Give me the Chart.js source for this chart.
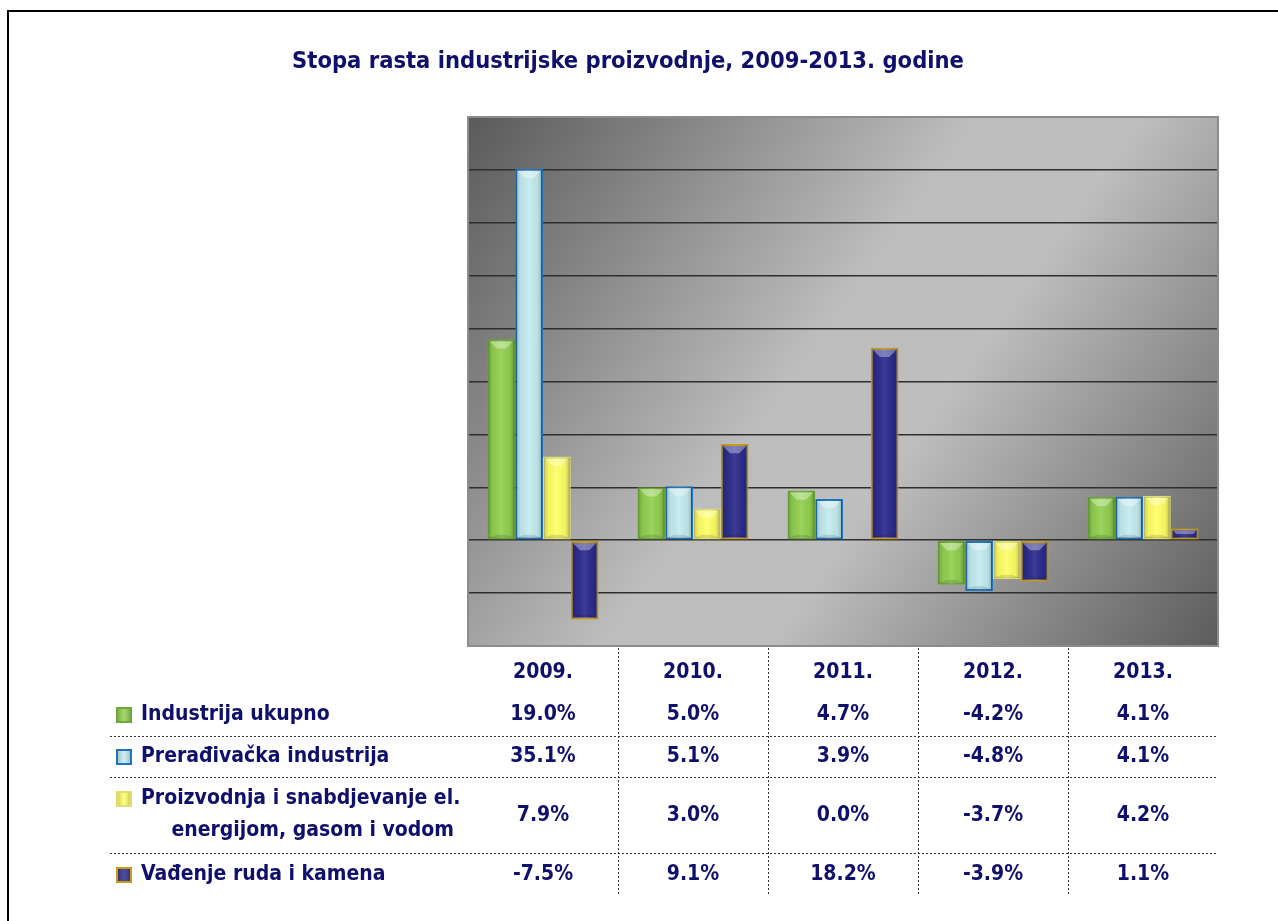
<!DOCTYPE html>
<html lang="sr">
<head>
  <meta charset="UTF-8">
  <title>Stopa rasta industrijske proizvodnje</title>
  <script src="https://cdn.jsdelivr.net/npm/chart.js"></script>
  <style>
    body {
      margin: 0;
      background: #fff;
    }
    #wrap {
      position: relative;
      width: 1278px;
      height: 921px;
    }
  </style>
</head>
<body>
  <div id="wrap">
    <canvas id="chart" width="1278" height="921"></canvas>
  </div>

  <script>
    // data
    const years = ['2009.', '2010.', '2011.', '2012.', '2013.'];
    const seriesNames = [
      'Industrija ukupno',
      'Prerađivačka industrija',
      'Proizvodnja i snabdjevanje el. energijom, gasom i vodom',
      'Vađenje ruda i kamena'
    ];
    const ukupno = [19.0, 5.0, 4.7, -4.2, 4.1];
    const preradjivacka = [35.1, 5.1, 3.9, -4.8, 4.1];
    const energija = [7.9, 3.0, 0.0, -3.7, 4.2];
    const vadjenje = [-7.5, 9.1, 18.2, -3.9, 1.1];

    const titleText = 'Stopa rasta industrijske proizvodnje, 2009-2013. godine';
    const navy = '#0f0f6c';
    const fontFam = "'DejaVu Sans Condensed', 'DejaVu Sans', sans-serif";

    const fills = ['#92d050', '#c4ecf0', '#ffff66', '#2c2c8e'];
    const borders = ['#6fa83a', '#1f74bb', '#e0e070', '#c99a16'];

    // plot background, frame and title
    const backdrop = {
      id: 'backdrop',
      beforeDraw(chart) {
        const ctx = chart.ctx;
        const a = chart.chartArea;
        ctx.save();
        ctx.fillStyle = '#fff';
        ctx.fillRect(0, 0, chart.width, chart.height);

        ctx.strokeStyle = '#000';
        ctx.lineWidth = 2;
        ctx.strokeRect(8, 11, chart.width + 20, chart.height + 20);

        const g = ctx.createLinearGradient(a.left, a.top, a.right, a.bottom);
        g.addColorStop(0, '#5a5a5a');
        g.addColorStop(0.45, '#bdbdbd');
        g.addColorStop(0.6, '#bebebe');
        g.addColorStop(1, '#5c5c5c');
        ctx.fillStyle = g;
        ctx.fillRect(a.left, a.top, a.right - a.left, a.bottom - a.top);

        ctx.fillStyle = navy;
        ctx.font = 'bold 23.5px ' + fontFam;
        ctx.textAlign = 'center';
        ctx.textBaseline = 'middle';
        ctx.fillText(titleText, 628, 62);
        ctx.restore();
      },
      afterDatasetsDraw(chart) {
        const ctx = chart.ctx;
        const a = chart.chartArea;
        ctx.save();
        // bevel look on every bar
        chart.data.datasets.forEach((ds, i) => {
          chart.getDatasetMeta(i).data.forEach(el => {
            const p = el.getProps(['x', 'y', 'base', 'width'], true);
            const h = Math.abs(p.base - p.y);
            if (h < 1) return;
            const l = p.x - p.width / 2;
            const t = Math.min(p.y, p.base);
            const w = p.width;
            const hg = ctx.createLinearGradient(l, 0, l + w, 0);
            hg.addColorStop(0, 'rgba(0,0,0,0.22)');
            hg.addColorStop(0.2, 'rgba(0,0,0,0.05)');
            hg.addColorStop(0.5, 'rgba(255,255,255,0.08)');
            hg.addColorStop(0.8, 'rgba(0,0,0,0.05)');
            hg.addColorStop(1, 'rgba(0,0,0,0.28)');
            ctx.fillStyle = hg;
            ctx.fillRect(l + 1, t + 1, w - 2, h - 2);
            const ch = Math.min(w / 3, h / 2);
            ctx.fillStyle = 'rgba(255,255,255,0.35)';
            ctx.beginPath();
            ctx.moveTo(l + 2, t + 2);
            ctx.lineTo(l + w - 2, t + 2);
            ctx.lineTo(l + w - ch, t + ch);
            ctx.lineTo(l + ch, t + ch);
            ctx.closePath();
            ctx.fill();
            ctx.fillStyle = 'rgba(0,0,0,0.12)';
            ctx.beginPath();
            ctx.moveTo(l + 2, t + h - 2);
            ctx.lineTo(l + w - 2, t + h - 2);
            ctx.lineTo(l + w - ch, t + h - ch / 2);
            ctx.lineTo(l + ch, t + h - ch / 2);
            ctx.closePath();
            ctx.fill();
          });
        });
        ctx.strokeStyle = '#8c8c8c';
        ctx.lineWidth = 2;
        ctx.strokeRect(a.left, a.top, a.right - a.left, a.bottom - a.top);
        ctx.restore();
      }
    };

    // data table under the plot, columns follow the x scale
    const dataTable = {
      id: 'dataTable',
      afterDraw(chart) {
        const ctx = chart.ctx;
        const xs = chart.scales.x;
        const a = chart.chartArea;
        const step = xs.getPixelForValue(1) - xs.getPixelForValue(0);
        const rowsY = [715, 757, 816, 875];
        const lineY = [736, 777, 853];
        const series = chart.data.datasets.map(d => d.data);

        ctx.save();
        ctx.strokeStyle = '#333';
        ctx.lineWidth = 1;
        ctx.setLineDash([2, 2]);
        lineY.forEach(y => {
          ctx.beginPath();
          ctx.moveTo(110, y + 0.5);
          ctx.lineTo(a.right, y + 0.5);
          ctx.stroke();
        });
        for (let i = 0; i < years.length - 1; i++) {
          const x = Math.round(xs.getPixelForValue(i) + step / 2) + 0.5;
          ctx.beginPath();
          ctx.moveTo(x, a.bottom + 2);
          ctx.lineTo(x, 895);
          ctx.stroke();
        }
        ctx.setLineDash([]);

        ctx.fillStyle = navy;
        ctx.font = 'bold 21px ' + fontFam;
        ctx.textAlign = 'center';
        ctx.textBaseline = 'middle';
        years.forEach((yr, i) => ctx.fillText(yr, xs.getPixelForValue(i), 673));
        series.forEach((vals, r) => {
          vals.forEach((v, i) => {
            ctx.fillText(v.toFixed(1) + '%', xs.getPixelForValue(i), rowsY[r]);
          });
        });

        // row labels with legend markers
        const labelY = [715, 757, 799, 875];
        ctx.textAlign = 'left';
        seriesNames.forEach((name, r) => {
          const my = labelY[r] - 8;
          ctx.fillStyle = fills[r];
          ctx.fillRect(116, my, 16, 16);
          const mg = ctx.createLinearGradient(116, 0, 132, 0);
          mg.addColorStop(0, 'rgba(0,0,0,0.25)');
          mg.addColorStop(0.5, 'rgba(255,255,255,0.15)');
          mg.addColorStop(1, 'rgba(0,0,0,0.3)');
          ctx.fillStyle = mg;
          ctx.fillRect(116, my, 16, 16);
          ctx.strokeStyle = borders[r];
          ctx.lineWidth = 2;
          ctx.strokeRect(117, my + 1, 14, 14);

          ctx.fillStyle = navy;
          if (r === 2) {
            const l1 = 'Proizvodnja i snabdjevanje el.';
            const l2 = 'energijom, gasom i vodom';
            ctx.fillText(l1, 141, labelY[r]);
            const c = 141 + ctx.measureText(l1).width / 2 + 12;
            ctx.textAlign = 'center';
            ctx.fillText(l2, c, 831);
            ctx.textAlign = 'left';
          } else {
            ctx.fillText(name, 141, labelY[r]);
          }
        });
        ctx.restore();
      }
    };

    const datasets = [ukupno, preradjivacka, energija, vadjenje].map((vals, i) => ({
      label: seriesNames[i],
      data: vals,
      backgroundColor: fills[i],
      borderColor: borders[i],
      borderWidth: 2,
      borderSkipped: false
    }));

    new Chart(document.getElementById('chart'), {
      type: 'bar',
      data: { labels: years, datasets: datasets },
      options: {
        responsive: false,
        animation: false,
        events: [],
        layout: {
          padding: { left: 468, right: 60, top: 117, bottom: 275 }
        },
        datasets: {
          bar: { categoryPercentage: 0.74, barPercentage: 1.0 }
        },
        scales: {
          x: { display: false },
          y: {
            min: -10,
            max: 40,
            ticks: { display: false, stepSize: 5 },
            border: { display: false },
            grid: {
              drawTicks: false,
              lineWidth: 1.5,
              color: c => (c.tick && (c.tick.value === -10 || c.tick.value === 40)) ? 'rgba(0,0,0,0)' : '#2e2e2e'
            }
          }
        },
        plugins: {
          legend: { display: false },
          title: { display: false },
          tooltip: { enabled: false }
        }
      },
      plugins: [backdrop, dataTable]
    });
  </script>
</body>
</html>
